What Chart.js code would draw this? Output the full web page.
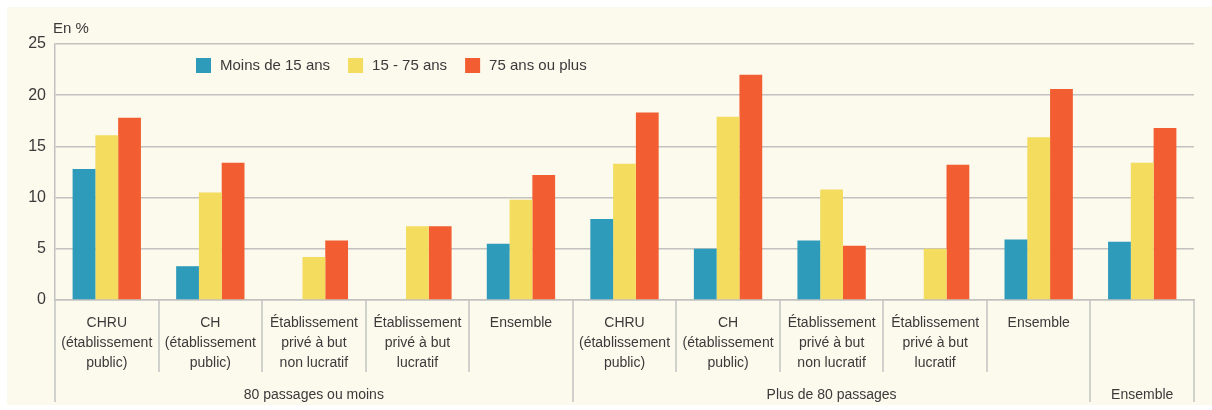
<!DOCTYPE html>
<html>
<head>
<meta charset="utf-8">
<script src="https://cdn.jsdelivr.net/npm/chart.js@4/dist/chart.umd.min.js"></script>
<style>
  html, body { margin: 0; padding: 0; background: #fff; }
  #wrap { width: 1212px; height: 410px; position: relative; }
</style>
</head>
<body>
<div id="wrap"><canvas id="chart"></canvas></div>
<script>
// Category labels (multi-line); the last category has its label drawn as group label.
var categories = [
	[ 'CHRU', '(établissement', 'public)' ],
	[ 'CH', '(établissement', 'public)' ],
	[ 'Établissement', 'privé à but', 'non lucratif' ],
	[ 'Établissement', 'privé à but', 'lucratif' ],
	[ 'Ensemble' ],
	[ 'CHRU', '(établissement', 'public)' ],
	[ 'CH', '(établissement', 'public)' ],
	[ 'Établissement', 'privé à but', 'non lucratif' ],
	[ 'Établissement', 'privé à but', 'lucratif' ],
	[ 'Ensemble' ],
	[ '' ]
];
var groupLabels = [ '80 passages ou moins', 'Plus de 80 passages', 'Ensemble' ];
var groupSizes  = [ 5, 5, 1 ];

var seriesNames = [ 'Moins de 15 ans', '15 - 75 ans', '75 ans ou plus' ];
var moins15 = [ 12.8, 3.3, null, null, 5.5, 7.9, 5.0, 5.8, null, 5.9, 5.7 ];
var de15a75 = [ 16.1, 10.5, 4.2, 7.2, 9.8, 13.3, 17.9, 10.8, 5.0, 15.9, 13.4 ];
var plus75  = [ 17.8, 13.4, 5.8, 7.2, 12.2, 18.3, 22.0, 5.3, 13.2, 20.6, 16.8 ];
var yTicks  = [ 0, 5, 10, 15, 20, 25 ];

var colors = [ '#2f9bba', '#f4dc5e', '#f25e31' ];
var FONT = "'Liberation Sans', Arial, sans-serif";
var TEXT = '#3a3a3a';
var LINE = '#c2c2c0';

var decor = {
	id: 'decor',
	beforeDraw: function ( chart ) {
		var ctx = chart.ctx;
		ctx.save();
		ctx.fillStyle = '#ffffff';
		ctx.fillRect( 0, 0, chart.width, chart.height );
		ctx.fillStyle = '#fcf9ed';
		ctx.fillRect( 7, 7, chart.width - 7, chart.height - 12 );
		ctx.restore();
	},
	afterDraw: function ( chart ) {
		var ctx = chart.ctx;
		var x = chart.scales.x;
		var area = chart.chartArea;
		var half = ( x.getPixelForValue( 1 ) - x.getPixelForValue( 0 ) ) / 2;

		ctx.save();
		// category separators below the axis
		var groupEnds = [ 0 ];
		var acc = 0;
		groupSizes.forEach( function ( n ) { acc += n; groupEnds.push( acc ); } );
		ctx.strokeStyle = LINE;
		ctx.lineWidth = 1.5;
		for ( var i = 0; i <= categories.length; i++ ) {
			var px = Math.round( x.getPixelForValue( i ) - half );
			var long = groupEnds.indexOf( i ) !== -1;
			ctx.beginPath();
			ctx.moveTo( px, area.bottom );
			ctx.lineTo( px, long ? 402 : 372 );
			ctx.stroke();
		}

		// group labels
		ctx.fillStyle = TEXT;
		ctx.font = '14px ' + FONT;
		ctx.textAlign = 'center';
		ctx.textBaseline = 'middle';
		for ( var g = 0; g < groupLabels.length; g++ ) {
			var a = x.getPixelForValue( groupEnds[ g ] ) - half;
			var b = x.getPixelForValue( groupEnds[ g + 1 ] - 1 ) + half;
			ctx.fillText( groupLabels[ g ], ( a + b ) / 2, 395 );
		}

		// unit label
		ctx.textAlign = 'left';
		ctx.font = '15px ' + FONT;
		ctx.fillText( 'En %', 53, 29 );

		// legend
		var bx = 196;
		ctx.font = '15px ' + FONT;
		chart.data.datasets.forEach( function ( ds ) {
			ctx.fillStyle = ds.backgroundColor;
			ctx.fillRect( bx, 58, 15, 15 );
			ctx.fillStyle = TEXT;
			ctx.fillText( ds.label, bx + 24, 66 );
			bx += 24 + ctx.measureText( ds.label ).width + 18;
		} );
		ctx.restore();
	}
};

new Chart( document.getElementById( 'chart' ).getContext( '2d' ), {
	type: 'bar',
	data: {
		labels: categories,
		datasets: [
			{ label: seriesNames[ 0 ], data: moins15, backgroundColor: colors[ 0 ] },
			{ label: seriesNames[ 1 ], data: de15a75, backgroundColor: colors[ 1 ] },
			{ label: seriesNames[ 2 ], data: plus75, backgroundColor: colors[ 2 ] }
		]
	},
	options: {
		responsive: true,
		maintainAspectRatio: false,
		animation: false,
		devicePixelRatio: 1,
		layout: { padding: { top: 44, left: 0, right: 18, bottom: 0 } },
		datasets: { bar: { categoryPercentage: 0.66, barPercentage: 1 } },
		plugins: {
			legend: { display: false },
			tooltip: { enabled: false }
		},
		scales: {
			x: {
				grid: { display: false },
				border: { display: true, color: LINE, width: 1.5 },
				ticks: {
					autoSkip: false,
					maxRotation: 0,
					padding: 5,
					color: TEXT,
					font: { family: FONT, size: 14, lineHeight: 1.43 }
				},
				afterFit: function ( s ) { s.height = 110; }
			},
			y: {
				min: 0,
				max: 25,
				afterBuildTicks: function ( s ) {
					s.ticks = yTicks.map( function ( v ) { return { value: v }; } );
				},
				grid: { color: LINE, lineWidth: 1.5, drawTicks: false },
				border: { display: true, color: LINE, width: 1.5 },
				ticks: {
					padding: 9,
					color: TEXT,
					font: { family: FONT, size: 16 }
				},
				afterFit: function ( s ) { s.width = 55; }
			}
		}
	},
	plugins: [ decor ]
} );
</script>
</body>
</html>
